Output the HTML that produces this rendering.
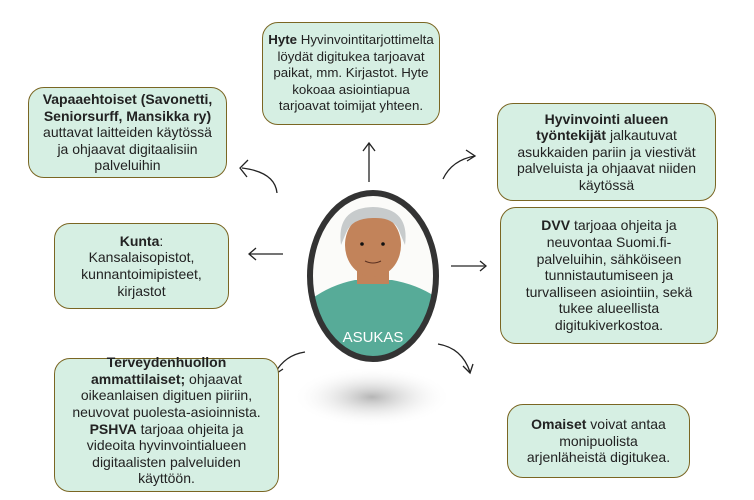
<!DOCTYPE html>
<html><head><meta charset="utf-8"><style>
body{margin:0;width:754px;height:500px;background:#fff;position:relative;overflow:hidden;font-family:"Liberation Sans",sans-serif;}
.b{position:absolute;box-sizing:border-box;background:#d6efe3;border:1.5px solid #7a6623;border-radius:16px;display:flex;align-items:center;justify-content:center;text-align:center;font-size:14px;line-height:16.6px;color:#222;padding:0;white-space:nowrap;}
.b b{color:#222}
svg{position:absolute;left:0;top:0}
</style></head><body>
<svg width="754" height="500">
<defs><radialGradient id="sh"><stop offset="0" stop-color="#b5b5b5"/><stop offset="1" stop-color="#fff" stop-opacity="0"/></radialGradient>
<clipPath id="ov"><ellipse cx="373" cy="276" rx="62" ry="82"/></clipPath></defs>
<ellipse cx="372" cy="397" rx="80" ry="30" fill="url(#sh)"/>
<g fill="none" stroke="#222" stroke-width="1.3">
<line x1="369" y1="182" x2="369" y2="143"/><path d="M363 151 L369 143 L375 151"/>
<line x1="283" y1="254" x2="249" y2="254"/><path d="M256 248 L249 254 L256 260"/>
<line x1="451" y1="266" x2="485" y2="266" stroke="#777" stroke-width="2"/><path d="M480 261 L486 266 L480 271"/>
<path d="M277 193 Q275 172 242 168"/><path d="M248 160 L240 168 L247 177"/>
<path d="M443 179 Q452 160 475 156"/><path d="M466 150 L475 156 L467 161"/>
<path d="M305 352 Q285 355 275 373"/><path d="M270 364 L274 375 L283 369"/>
<path d="M438 344 Q462 348 470 372"/><path d="M463 366 L470 373 L473 364"/>
</g>
<g clip-path="url(#ov)">
<rect x="300" y="190" width="150" height="180" fill="#fbfbf9"/>
<path d="M310 300 Q330 285 355 280 L392 280 Q420 285 440 300 L440 370 L305 370 Z" fill="#57ab98"/>
<rect x="357" y="262" width="32" height="22" fill="#c2835a"/>
<ellipse cx="373" cy="245" rx="28" ry="32" fill="#c2835a"/>
<path d="M341 245 Q336 208 373 207 Q410 208 405 245 L400 233 Q395 217 373 218 Q352 218 346 233 Z" fill="#c7cbcc"/>
<circle cx="362" cy="244" r="1.8" fill="#111"/><circle cx="383" cy="244" r="1.8" fill="#111"/>
<path d="M365 261 Q373 265 381 261" stroke="#5a3020" fill="none"/>
</g>
<ellipse cx="373" cy="276" rx="63" ry="83" fill="none" stroke="#333" stroke-width="6"/>
<text x="373" y="342" font-family="Liberation Sans" font-size="15" fill="#fff" text-anchor="middle">ASUKAS</text>
</svg>
<div class="b" style="left:262px;top:22px;width:178px;height:103px;font-size:13.3px"><div><b>Hyte</b> Hyvinvointitarjottimelta<br>löydät digitukea tarjoavat<br>paikat, mm. Kirjastot. Hyte<br>kokoaa asiointiapua<br>tarjoavat toimijat yhteen.</div></div>
<div class="b" style="left:28px;top:87px;width:199px;height:91px"><div><b>Vapaaehtoiset (Savonetti,<br>Seniorsurff, Mansikka ry)</b><br>auttavat laitteiden käytössä<br>ja ohjaavat digitaalisiin<br>palveluihin</div></div>
<div class="b" style="left:497px;top:103px;width:219px;height:98px"><div><b>Hyvinvointi alueen<br>työntekijät</b> jalkautuvat<br>asukkaiden pariin ja viestivät<br>palveluista ja ohjaavat niiden<br>käytössä</div></div>
<div class="b" style="left:54px;top:223px;width:175px;height:86px"><div><b>Kunta</b>:<br>Kansalaisopistot,<br>kunnantoimipisteet,<br>kirjastot</div></div>
<div class="b" style="left:500px;top:207px;width:218px;height:137px"><div><b>DVV</b> tarjoaa ohjeita ja<br>neuvontaa Suomi.fi-<br>palveluihin, sähköiseen<br>tunnistautumiseen ja<br>turvalliseen asiointiin, sekä<br>tukee alueellista<br>digitukiverkostoa.</div></div>
<div class="b" style="left:54px;top:358px;width:225px;height:134px;align-items:flex-end;padding-bottom:4px"><div><b>Terveydenhuollon<br>ammattilaiset;</b> ohjaavat<br>oikeanlaisen digituen piiriin,<br>neuvovat puolesta-asioinnista.<br><b>PSHVA</b> tarjoaa ohjeita ja<br>videoita hyvinvointialueen<br>digitaalisten palveluiden<br>käyttöön.</div></div>
<div class="b" style="left:507px;top:404px;width:183px;height:74px"><div><b>Omaiset</b> voivat antaa<br>monipuolista<br>arjenläheistä digitukea.</div></div>
</body></html>
